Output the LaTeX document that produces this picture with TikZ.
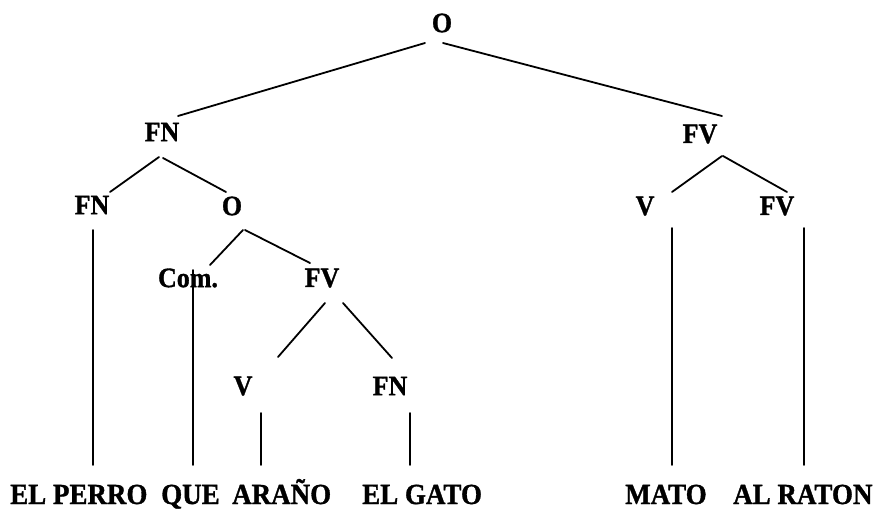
\documentclass[tikz,border=0pt]{standalone}
\usepackage{fontspec}
\setmainfont{Liberation Serif}[BoldFeatures={FakeBold=1.2}]
\usetikzlibrary{calc}
% the typeface of the tree is set a little taller than its natural shape
\newcommand\tallset[1]{\scalebox{1}[1.08]{#1}}
\tikzset{
  lab/.style={inner sep=0pt, font=\bfseries\fontsize{26}{26}\selectfont},
  word/.style={inner sep=0pt, anchor=base west, font=\bfseries\fontsize{27}{27}\selectfont},
  branch/.style={line width=1.8pt, line cap=round}
}
\begin{document}
\begin{tikzpicture}[x=1pt, y=-1pt]
\useasboundingbox[fill=white] (0,0) rectangle (886,511);

% category labels
\node[lab] (s)   at (442,23)  {\tallset{O}};
\node[lab] (fn1) at (162,132) {\tallset{FN}};
\node[lab] (fv1) at (700,134) {\tallset{FV}};
\node[lab] (fn2) at (92,205)  {\tallset{FN}};
\node[lab] (o2)  at (232,206) {\tallset{O}};
\node[lab] (v3)  at (645,206) {\tallset{V}};
\node[lab] (fv3) at (777,206) {\tallset{FV}};
\node[lab] (com) at (188,278) {\tallset{Com.}};
\node[lab] (fv4) at (322,278) {\tallset{FV}};
\node[lab] (v5)  at (243,386) {\tallset{V}};
\node[lab] (fn5) at (390,386) {\tallset{FN}};

% terminal words
\node[word] (perro) at (10,504)  {\tallset{EL PERRO}};
\node[word] (que)   at (161,504) {\tallset{QUE}};
\node[word] (arano) at (232,504) {\tallset{ARAÑO}};
\node[word] (gato)  at (362,504) {\tallset{EL GATO}};
\node[word] (mato)  at (625,504) {\tallset{MATO}};
\node[word] (raton) at (733,504) {\tallset{AL RATON}};

% branches
\draw[branch] ($(s)+(-17,20)$)  -- ($(fn1)+(16,-16)$);
\draw[branch] ($(s)+(1,20)$)    -- ($(fv1)+(22,-18)$);
\draw[branch] ($(fn1)+(-3,25)$) -- ($(fn2)+(18,-13)$);
\draw[branch] ($(fn1)+(1,26)$)  -- ($(o2)+(-6,-14)$);
\draw[branch] ($(fv1)+(22,22)$) -- ($(v3)+(27,-14)$);
\draw[branch] ($(fv1)+(23,22)$) -- ($(fv3)+(10,-14)$);
\draw[branch] ($(o2)+(11,24)$)  -- ($(com)+(22,-13)$);
\draw[branch] ($(o2)+(13,24)$)  -- ($(fv4)+(-12,-15)$);
\draw[branch] ($(fv4)+(3,25)$)  -- ($(v5)+(35,-29)$);
\draw[branch] ($(fv4)+(21,25)$) -- ($(fn5)+(2,-28)$);

% vertical links down to the words
\draw[branch] ($(fn2)+(1,25)$)  -- ($(fn2 |- perro.base)+(1,-39)$);
\draw[branch] ($(com)+(5,-8)$)  -- ($(com |- que.base)+(5,-39)$);
\draw[branch] ($(v5)+(18,27)$)  -- ($(v5 |- arano.base)+(18,-39)$);
\draw[branch] ($(fn5)+(20,27)$) -- ($(fn5 |- gato.base)+(20,-39)$);
\draw[branch] ($(v3)+(27,22)$)  -- ($(v3 |- mato.base)+(27,-39)$);
\draw[branch] ($(fv3)+(27,22)$) -- ($(fv3 |- raton.base)+(27,-39)$);
\end{tikzpicture}
\end{document}
